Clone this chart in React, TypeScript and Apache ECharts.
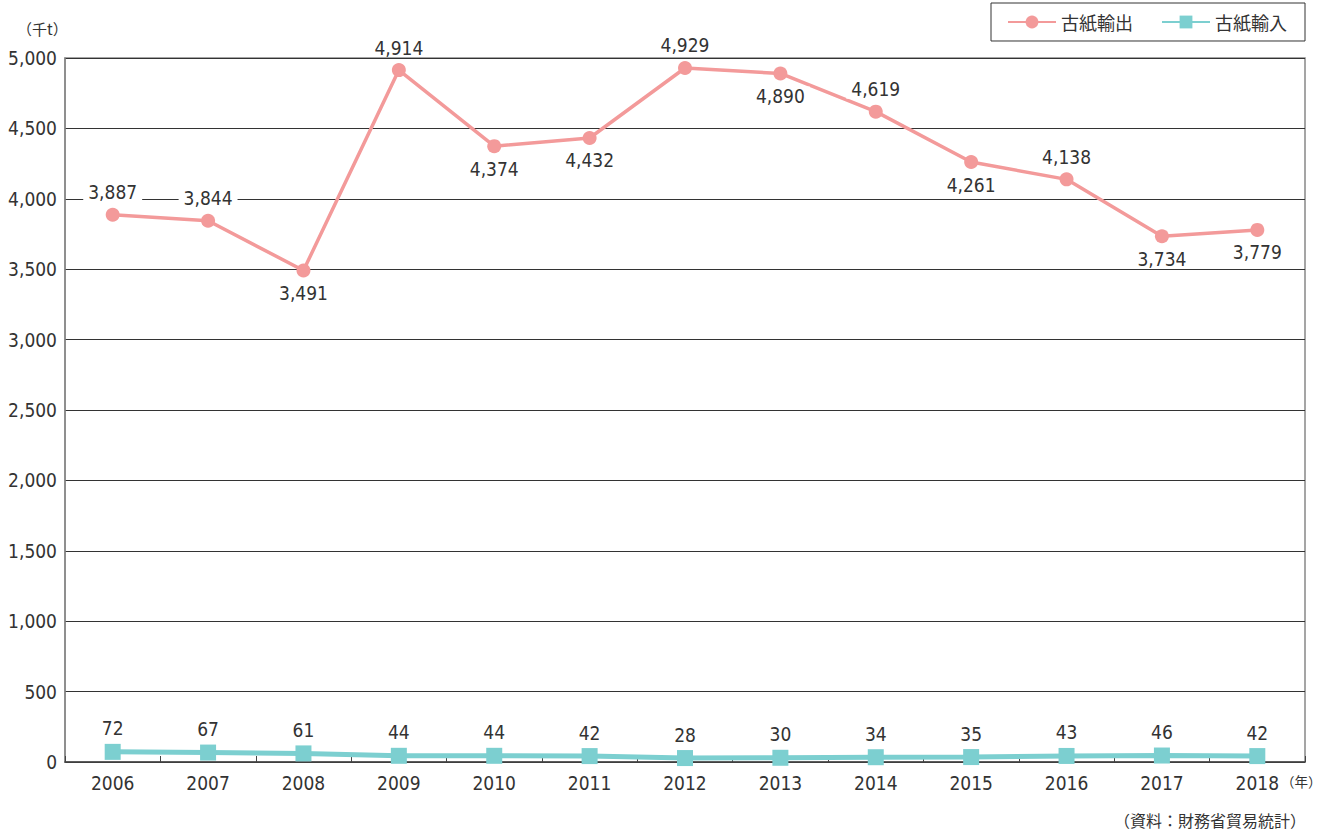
import React, { useEffect, useRef } from "react";
import * as echarts from "echarts";

const years = ["2006", "2007", "2008", "2009", "2010", "2011", "2012", "2013", "2014", "2015", "2016", "2017", "2018"];
const exportValues = [3887, 3844, 3491, 4914, 4374, 4432, 4929, 4890, 4619, 4261, 4138, 3734, 3779];
const importValues = [72, 67, 61, 44, 44, 42, 28, 30, 34, 35, 43, 46, 42];
const exportLabelPos = ["top", "top", "bottom", "top", "bottom", "bottom", "top", "bottom", "top", "bottom", "top", "bottom", "bottom"];

const NUM_FONT = "'Liberation Sans Narrow', 'DejaVu Sans Condensed', Roboto, sans-serif";
const CJK_FONT = "'Noto Sans CJK JP', sans-serif";
const fmt = (v: number) => v.toLocaleString("en-US");

export default function App() {
  const ref = useRef<HTMLDivElement>(null);
  useEffect(() => {
    const chart = echarts.init(ref.current!, null, { renderer: "svg" });
    chart.setOption({
      animation: false,
      textStyle: { fontFamily: NUM_FONT },
      grid: {
        left: 65, right: 19, top: 58, bottom: 72,
        show: true, borderColor: "#888", borderWidth: 1.5,
      },
      legend: {
        right: 19, top: 3,
        orient: "horizontal",
        borderColor: "#333", borderWidth: 1,
        padding: [10, 18, 10, 16],
        itemGap: 28,
        itemWidth: 48, itemHeight: 16,
        textStyle: { fontSize: 18, color: "#333", fontFamily: CJK_FONT },
        data: ["古紙輸出", "古紙輸入"],
      },
      xAxis: {
        type: "category",
        data: years,
        boundaryGap: true,
        axisLine: { show: true, lineStyle: { color: "#444", width: 1.5 } },
        axisTick: { show: true, inside: true, length: 6, lineStyle: { color: "#444" } },
        axisLabel: { fontSize: 19, color: "#333", margin: 11, fontFamily: NUM_FONT },
        splitLine: { show: false },
      },
      yAxis: {
        type: "value",
        min: 0, max: 5000, interval: 500,
        axisLine: { show: true, lineStyle: { color: "#888", width: 1.5 } },
        axisTick: { show: false },
        axisLabel: { fontSize: 19, color: "#333", margin: 8, formatter: (v: number) => fmt(v), fontFamily: NUM_FONT },
        splitLine: { show: true, lineStyle: { color: "#333", width: 1 } },
      },
      graphic: [
        { type: "text", left: 17, top: 21, style: { text: "（千t）", fontSize: 15, fill: "#333", fontFamily: CJK_FONT } },
        { type: "text", left: 1281, top: 774, style: { text: "（年）", fontSize: 13.5, fill: "#333", fontFamily: CJK_FONT } },
        { type: "text", right: 18, top: 812, style: { text: "（資料：財務省貿易統計）", fontSize: 16, fill: "#333", fontFamily: CJK_FONT } },
      ],
      series: [
        {
          name: "古紙輸出",
          type: "line",
          data: exportValues.map((v, i) => ({
            value: v,
            label: { position: exportLabelPos[i] },
          })),
          symbol: "circle",
          symbolSize: 14,
          itemStyle: { color: "#f39a9a" },
          lineStyle: { color: "#f39a9a", width: 3.5 },
          label: {
            show: true,
            fontSize: 19,
            color: "#333",
            distance: 6,
            backgroundColor: "#fff",
            padding: [0, 5],
            formatter: (p: any) => fmt(p.value),
            fontFamily: NUM_FONT,
          },
          z: 3,
        },
        {
          name: "古紙輸入",
          type: "line",
          data: importValues,
          symbol: "rect",
          symbolSize: 16,
          itemStyle: { color: "#7ccfd0" },
          lineStyle: { color: "#7ccfd0", width: 5 },
          label: {
            show: true,
            position: "top",
            fontSize: 19,
            color: "#333",
            distance: 6,
            formatter: (p: any) => fmt(p.value),
            fontFamily: NUM_FONT,
          },
          z: 3,
        },
      ],
    });
    return () => chart.dispose();
  }, []);
  return <div ref={ref} style={{ width: 1324, height: 834, position: "absolute", left: 0, top: 0 }} />;
}
